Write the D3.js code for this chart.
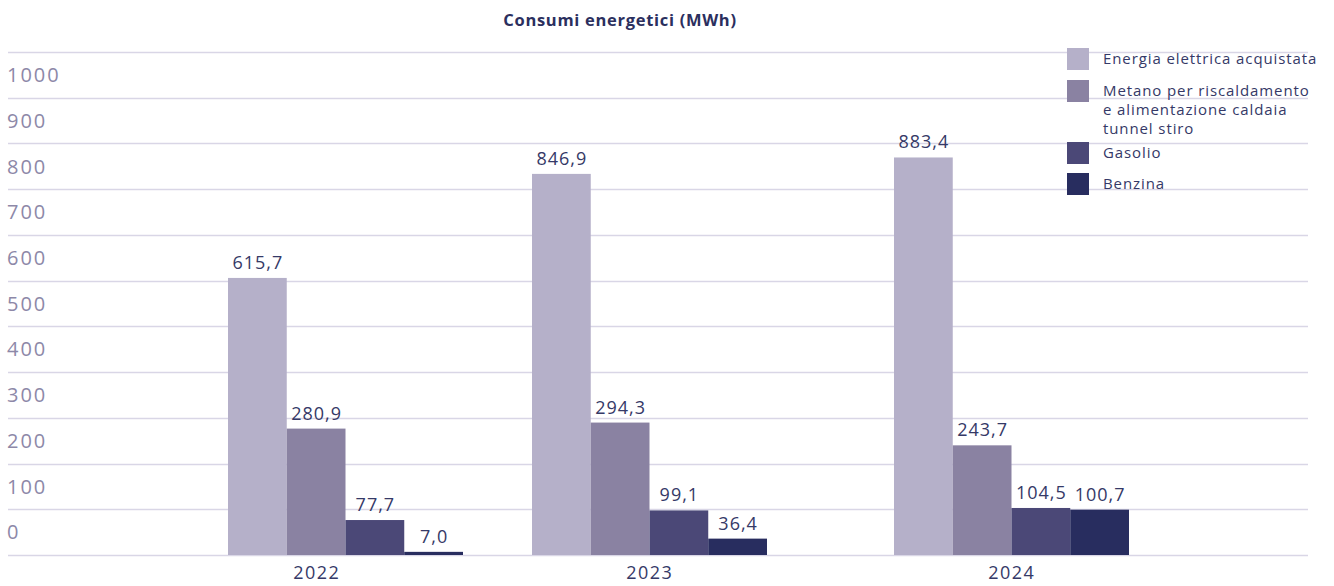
<!DOCTYPE html>
<html>
<head>
<meta charset="utf-8">
<script src="https://cdn.jsdelivr.net/npm/d3@7"></script>
<style>
  body { margin: 0; background: #fff; }
  text { font-family: "Open Sans", sans-serif; }
</style>
</head>
<body>
<script>
// data
const years = ["2022", "2023", "2024"]
const seriesNames = [
    "Energia elettrica acquistata",
    "Metano per riscaldamento e alimentazione caldaia tunnel stiro",
    "Gasolio",
    "Benzina"
]
const legendLines = [
    ["Energia elettrica acquistata"],
    ["Metano per riscaldamento", "e alimentazione caldaia", "tunnel stiro"],
    ["Gasolio"],
    ["Benzina"]
]
const elettrica = [615.7, 846.9, 883.4]
const metano = [280.9, 294.3, 243.7]
const gasolio = [77.7, 99.1, 104.5]
const benzina = [7.0, 36.4, 100.7]
const tickValues = [0, 100, 200, 300, 400, 500, 600, 700, 800, 900, 1000]
const colors = ["#b5b0c9", "#8a82a2", "#4b4877", "#282d5f"]

const width = 1334, height = 586
const svg = d3.select("body").append("svg")
    .attr("width", width).attr("height", height)

// bars and grid do not share exactly the same step in the original
let y = d3.scaleLinear().domain([0, 1000]).range([555, 105])
let gridY = d3.scaleLinear().domain([0, 1100]).range([555, 52])

// group centres are not evenly spaced in the original
let x0 = d3.scaleOrdinal().domain(years).range([345.5, 649.5, 1011.5])
let xLabel = d3.scaleOrdinal().domain(years).range([316, 649, 1011])
let x1 = d3.scaleBand().domain(d3.range(seriesNames.length)).range([-117.5, 117.5])

// gridlines
svg.append("g").selectAll("line")
    .data(d3.range(0, 1101, 100))
    .join("line")
    .attr("x1", 8).attr("x2", 1308)
    .attr("y1", d => Math.round(gridY(d)) + 0.5)
    .attr("y2", d => Math.round(gridY(d)) + 0.5)
    .attr("stroke", "#d9d6e6")
    .attr("stroke-width", 1.3)

// y labels sit between the gridlines
svg.append("g").selectAll("text")
    .data(tickValues)
    .join("text")
    .attr("x", 7)
    .attr("y", d => gridY(d + 50))
    .attr("dy", "0.36em")
    .attr("fill", "#8d88a8")
    .style("font-size", "20px")
    .style("letter-spacing", "2px")
    .text(d => d)

// title
svg.append("text")
    .attr("x", 620).attr("y", 26)
    .attr("text-anchor", "middle")
    .attr("fill", "#2b2f5e")
    .style("font-size", "16.5px")
    .style("font-weight", "bold")
    .style("letter-spacing", "0.7px")
    .text("Consumi energetici (MWh)")

let table = [elettrica, metano, gasolio, benzina]
let rows = []
years.forEach((yr, i) => {
    table.forEach((s, j) => rows.push({ year: yr, series: j, value: s[i] }))
})

const fmt = v => d3.format(".1f")(v).replace(".", ",")

svg.append("g").selectAll("rect")
    .data(rows)
    .join("rect")
    .attr("x", d => x0(d.year) + x1(d.series))
    .attr("width", x1.bandwidth())
    .attr("y", d => y(d.value))
    .attr("height", d => y(0) - y(d.value))
    .attr("fill", d => colors[d.series])

svg.append("g").selectAll("text")
    .data(rows)
    .join("text")
    .attr("x", d => x0(d.year) + x1(d.series) + x1.bandwidth() / 2 + 0.5)
    .attr("y", d => y(d.value) - 9)
    .attr("text-anchor", "middle")
    .attr("fill", "#353967")
    .style("font-size", "18px")
    .style("letter-spacing", "1px")
    .text(d => fmt(d.value))

// year labels
svg.append("g").selectAll("text")
    .data(years)
    .join("text")
    .attr("x", d => xLabel(d) + 0.75)
    .attr("y", 579)
    .attr("text-anchor", "middle")
    .attr("fill", "#353967")
    .style("font-size", "18px")
    .style("letter-spacing", "1.5px")
    .text(d => d)

// legend
let legendY = [48, 80, 142, 173]
let legend = svg.append("g").selectAll("g")
    .data(seriesNames)
    .join("g")
    .attr("transform", (d, i) => `translate(1067, ${legendY[i]})`)

legend.append("rect")
    .attr("width", 22).attr("height", 22)
    .attr("fill", (d, i) => colors[i])

legend.append("text")
    .attr("x", 36)
    .attr("y", 11)
    .attr("fill", "#353967")
    .style("font-size", "15px")
    .style("letter-spacing", "0.9px")
    .selectAll("tspan")
    .data((d, i) => legendLines[i])
    .join("tspan")
    .attr("x", 36)
    .attr("dy", (d, k) => k === 0 ? "0.36em" : "19px")
    .text(d => d)
</script>
</body>
</html>
